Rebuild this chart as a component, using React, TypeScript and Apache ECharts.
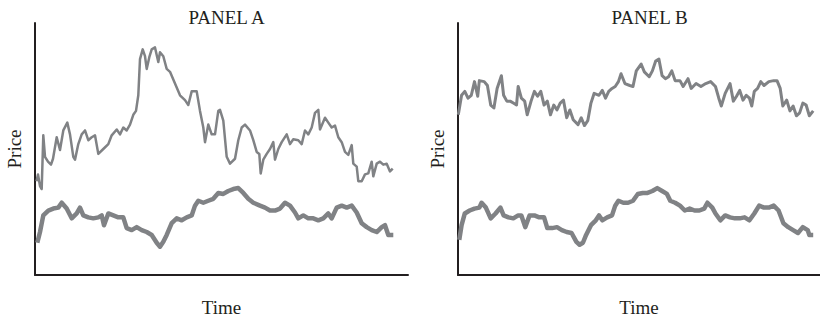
import React, { useEffect, useRef } from "react";
import * as echarts from "echarts";

// Time (arbitrary units from axis origin) and Price (arbitrary units) pairs
const panelTitles = ["PANEL A", "PANEL B"];
const xAxisName = "Time";
const yAxisName = "Price";

const panelAUpper: [number, number][] = [
  [1.5, 96], [3, 103], [5, 91], [6.7, 88], [8.3, 143], [10, 121], [13, 116], [16, 113], [18, 119],
  [21.7, 141], [25, 128], [28.3, 148], [32.3, 156], [35, 144], [38.3, 121], [40, 118], [43.3, 134],
  [46.7, 144], [50, 148], [53.3, 138], [56.7, 141], [60, 143], [63.3, 124], [68.3, 129], [73.3, 134],
  [76.7, 143], [81.7, 149], [85, 144], [88.3, 151], [91.7, 148], [95, 154], [98.3, 164], [101, 168],
  [103.3, 184], [105, 221], [107.7, 231], [110, 224], [111.7, 211], [114.3, 223], [116.7, 231],
  [120, 233], [123.3, 218], [125, 228], [128.3, 224], [131.7, 211], [135, 208], [140, 196], [145, 184],
  [150, 179], [153.3, 174], [156.7, 188], [161.7, 188], [165, 168], [168.3, 151], [170, 136],
  [173.3, 154], [176.7, 144], [180, 144], [183.3, 168], [185, 169], [188.3, 158], [191.7, 121],
  [195, 114], [200, 119], [203.3, 138], [206.7, 151], [210, 154], [215, 148], [218.3, 138],
  [221.7, 126], [224.3, 124], [225.7, 104], [228.3, 118], [231.7, 124], [235, 129], [238.3, 136],
  [240, 118], [243.3, 129], [246.7, 136], [251.7, 144], [255, 134], [258.3, 139], [263.3, 138],
  [266.7, 134], [270, 148], [273.3, 144], [276.7, 151], [280, 166], [283.3, 169], [285, 149],
  [290, 161], [293.3, 156], [296.7, 151], [300, 153], [303.3, 141], [306.7, 136], [310, 126],
  [313.3, 123], [316.7, 133], [318.3, 114], [321.7, 111], [323.3, 96], [326.7, 96], [330, 103],
  [333.3, 104], [336.7, 116], [338.3, 101], [341.7, 114], [345, 116], [348.3, 113], [351.7, 114],
  [355, 106], [357.7, 109],
];

const panelALower: [number, number][] = [
  [2.3, 33], [5, 44], [8.3, 61], [13.3, 66], [18.3, 68], [23.3, 69], [26.7, 74], [31.7, 68],
  [36.7, 58], [41.7, 63], [45, 69], [48.3, 61], [53.3, 59], [58.3, 58], [63.3, 59], [66.7, 61],
  [69, 51], [73.3, 63], [78.3, 61], [83.3, 59], [88.3, 59], [91.7, 48], [96.7, 46], [101.7, 49],
  [106.7, 46], [111.7, 44], [116.7, 41], [121.7, 33], [125, 29], [128.3, 34], [131.7, 41],
  [136.7, 53], [141.7, 58], [146.7, 56], [151.7, 59], [156.7, 61], [160, 71], [163.3, 76],
  [168.3, 74], [173.3, 76], [178.3, 78], [183.3, 84], [188.3, 83], [193.3, 86], [198.3, 88],
  [203.3, 89], [208.3, 84], [213.3, 78], [218.3, 74], [225, 71], [230, 69], [235, 66], [240, 66],
  [245, 68], [250, 74], [255, 71], [260, 64], [263.3, 58], [268.3, 61], [273.3, 58], [278.3, 58],
  [283.3, 56], [288.3, 58], [293.3, 63], [296.7, 58], [301.7, 69], [306.7, 71], [311.7, 69],
  [316.7, 71], [321.7, 64], [326.7, 53], [331.7, 49], [336.7, 46], [341.7, 44], [346.7, 49],
  [350, 51], [353.3, 41], [358.3, 41],
];

const panelBUpper: [number, number][] = [
  [0.3, 164], [3.7, 184], [7, 188], [10.3, 181], [13.7, 184], [17, 198], [20.3, 183], [22, 199],
  [27, 198], [30.3, 194], [33.7, 174], [37, 171], [40.3, 191], [44.7, 204], [47, 184], [50.3, 178],
  [53.7, 178], [57, 176], [60.3, 174], [62, 193], [65.3, 181], [68.7, 178], [71.3, 164], [75.3, 178],
  [78.7, 188], [82, 183], [85.3, 188], [88.7, 174], [92, 178], [95.3, 164], [98.7, 174], [102, 169],
  [105.3, 176], [108.7, 179], [112, 161], [115.3, 169], [118.7, 159], [123.7, 154], [127, 161],
  [130.3, 153], [133.7, 158], [137, 176], [140.3, 186], [145.3, 184], [148.7, 189], [152, 181],
  [155.3, 188], [158.7, 191], [162, 193], [165.3, 198], [168, 206], [172, 196], [177, 194],
  [180.3, 193], [183.7, 209], [188.7, 216], [192, 208], [197, 203], [200.3, 209], [203.7, 219],
  [207, 221], [210.3, 204], [213.7, 201], [217, 203], [220.3, 209], [223.7, 199], [228.7, 199],
  [232, 193], [237, 201], [240.3, 191], [245.3, 196], [250.3, 193], [255.3, 196], [260.3, 198],
  [265.3, 193], [268.7, 181], [271.3, 173], [275.3, 186], [280.3, 196], [283.7, 178], [287, 183],
  [290.3, 189], [293.7, 179], [297, 184], [300.3, 181], [302.7, 173], [305.3, 188], [308.7, 191],
  [312, 198], [315.3, 194], [320.3, 198], [325.3, 199], [328.7, 199], [332, 191], [334.7, 173],
  [338.7, 179], [342, 168], [345.3, 173], [348.7, 163], [352, 166], [355.3, 176], [358.7, 174],
  [362, 163], [366, 168],
];

const panelBLower: [number, number][] = [
  [1.3, 36], [3.7, 51], [7, 63], [12, 66], [17, 68], [22, 69], [24.3, 74], [28.7, 69], [33.7, 58],
  [38.7, 63], [43.7, 69], [47, 61], [52, 59], [57, 58], [62, 61], [65.3, 61], [69.3, 49], [73.7, 61],
  [78.7, 61], [83.7, 59], [88.7, 59], [92, 48], [97, 48], [102, 49], [107, 46], [112, 44], [117, 43],
  [122, 34], [125.3, 31], [128.7, 33], [132, 41], [137, 51], [142, 56], [145.3, 61], [148.7, 56],
  [153.7, 59], [158.7, 61], [162, 71], [165.3, 76], [170.3, 74], [175.3, 74], [180.3, 76],
  [185.3, 83], [190.3, 84], [195.3, 84], [200.3, 86], [205.3, 89], [210.3, 86], [215.3, 83],
  [218.7, 76], [223.7, 74], [228.7, 71], [233.7, 66], [238.7, 68], [243.7, 66], [248.7, 66],
  [253.7, 68], [257, 74], [262, 69], [265.3, 63], [270.3, 56], [275.3, 61], [280.3, 59], [285.3, 58],
  [290.3, 58], [295.3, 59], [300.3, 56], [305.3, 63], [310.3, 71], [315.3, 69], [320.3, 69],
  [325.3, 71], [330.3, 66], [335.3, 53], [340.3, 49], [345.3, 46], [350.3, 43], [355.3, 49],
  [360.3, 46], [362, 41], [366, 41],
];

const TEXT = "#231f20";
const LINE = "#808285";
const FONT = "'Liberation Serif', 'Times New Roman', serif";

export default function App() {
  const ref = useRef<HTMLDivElement>(null);

  useEffect(() => {
    if (!ref.current) return;
    const chart = echarts.init(ref.current, null, { renderer: "svg" });

    const grids = [
      { left: 35, top: 23, width: 373, height: 258 },
      { left: 458, top: 23, width: 373, height: 258 },
    ];

    const axisLine = { show: true, lineStyle: { color: TEXT, width: 2 } };
    const nameStyle = { fontFamily: FONT, fontSize: 19, color: TEXT };

    const xAxes = grids.map((_, i) => ({
      type: "value" as const,
      gridIndex: i,
      min: 0,
      max: 373,
      name: xAxisName,
      nameLocation: "middle" as const,
      nameGap: 23,
      nameTextStyle: nameStyle,
      axisLine,
      axisTick: { show: false },
      axisLabel: { show: false },
      splitLine: { show: false },
    }));

    const yAxes = grids.map((_, i) => ({
      type: "value" as const,
      gridIndex: i,
      min: 0,
      max: 258,
      name: yAxisName,
      nameLocation: "middle" as const,
      nameGap: 11,
      nameTextStyle: nameStyle,
      axisLine,
      axisTick: { show: false },
      axisLabel: { show: false },
      splitLine: { show: false },
    }));

    const mk = (data: [number, number][], idx: number, width: number) => ({
      type: "line" as const,
      xAxisIndex: idx,
      yAxisIndex: idx,
      data,
      showSymbol: false,
      symbol: "none",
      clip: true,
      lineStyle: { color: LINE, width, join: "round" as const },
    });

    chart.setOption({
      animation: false,
      backgroundColor: "#ffffff",
      title: panelTitles.map((t, i) => ({
        text: t,
        left: grids[i].left + grids[i].width / 2,
        top: 3,
        textAlign: "center",
        textStyle: { fontFamily: FONT, fontSize: 19, fontWeight: "normal", color: TEXT },
      })),
      grid: grids,
      xAxis: xAxes,
      yAxis: yAxes,
      series: [
        mk(panelAUpper, 0, 2.5),
        mk(panelALower, 0, 4.5),
        mk(panelBUpper, 1, 3),
        mk(panelBLower, 1, 4.5),
      ],
    });

    return () => chart.dispose();
  }, []);

  return (
    <div
      ref={ref}
      style={{ position: "fixed", left: 0, top: 0, width: 820, height: 322, background: "#fff" }}
    />
  );
}
